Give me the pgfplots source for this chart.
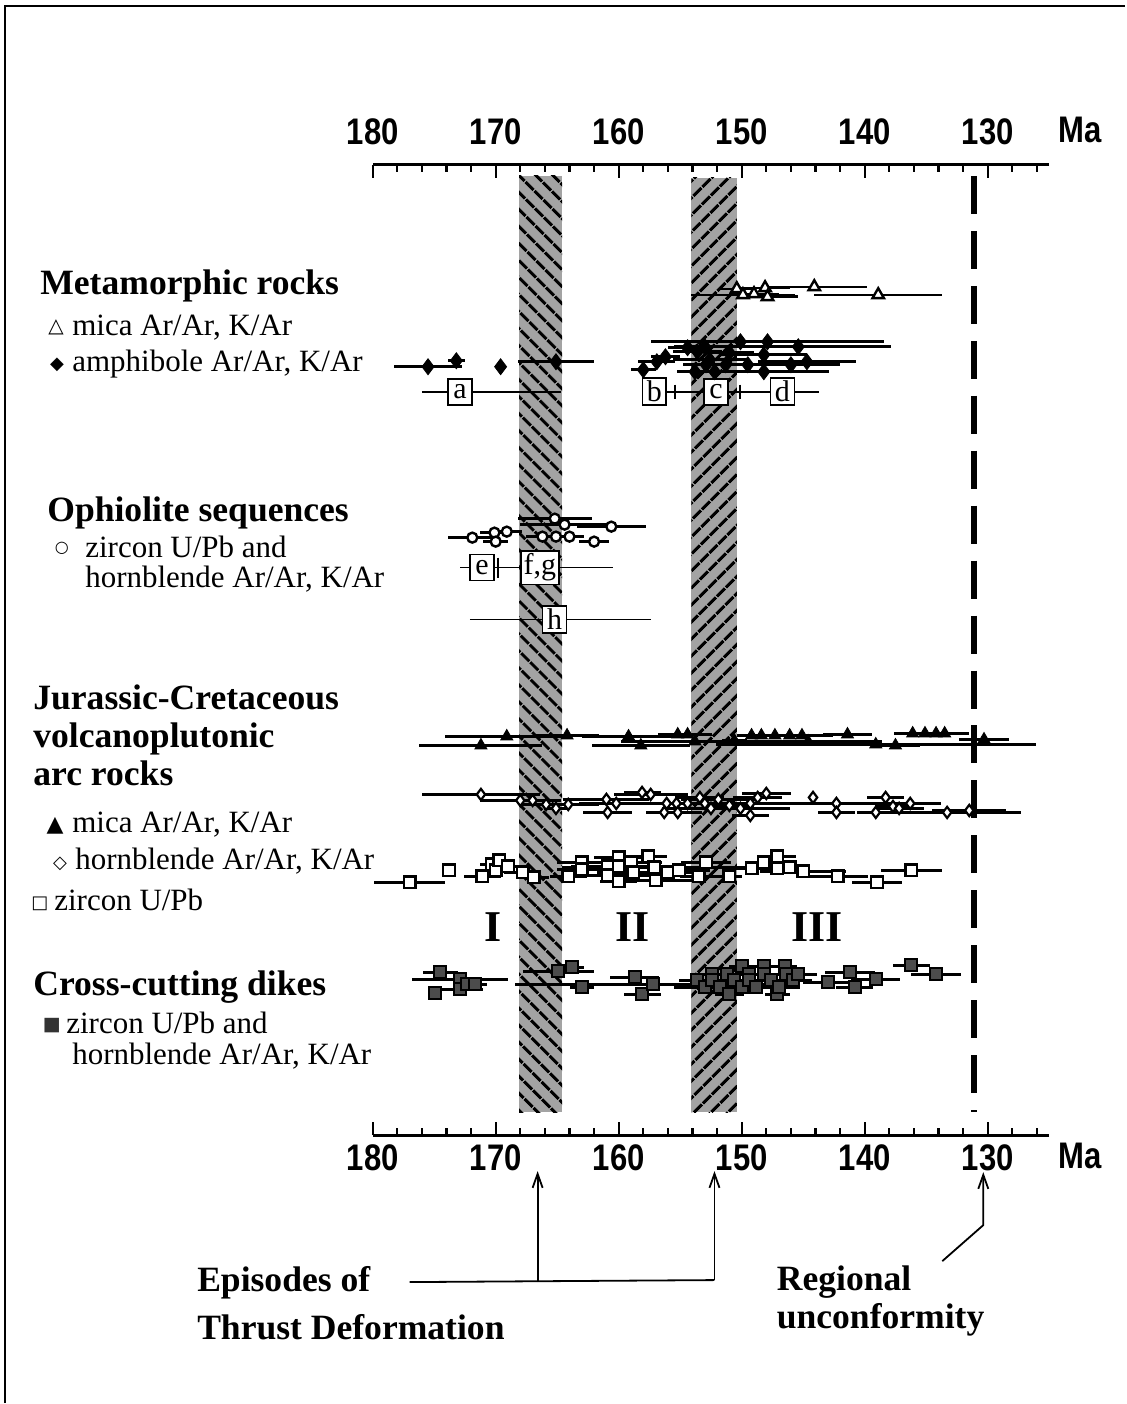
\documentclass[border=0pt]{standalone}
\usepackage{fontspec}
\setmainfont{Liberation Serif}
\newfontfamily\axisfont[FakeStretch=0.84]{Liberation Sans}
\newfontfamily\symfont{DejaVu Sans}
\usepackage{pgfplots}
\pgfplotsset{compat=1.18}
\usepackage{pgfplotstable}
\usetikzlibrary{patterns.meta, arrows.meta}

\newcommand\ticklabfont{\axisfont\bfseries\fontsize{18.5}{19}\selectfont}
\newcommand\ttl{\fontsize{17.8}{20}\selectfont\bfseries}
\newcommand\itm{\fontsize{15.5}{18}\selectfont}

% ages in Ma (x), row position (y, drawing units), 2-sigma half width (e)
\pgfplotstableread{
x y e
150.4 289 1.5
149.9 295 4.2
149.0 294 2.0
148.1 288 2.0
147.9 297 2.5
144.1 287 4.3
138.9 295 5.2
}\metamica

\pgfplotstableread{
x y e
175.5 367 2.8
173.2 361 0.7
169.6 367 0
165.1 362 3.1
158.0 370 1.0
156.9 362 1.5
156.2 357 1.2
154.4 348 1.6
153.6 352 2.0
153.0 347 2.5
152.6 360 3.0
152.2 372 2.0
153.8 372 1.5
152.9 365 1.0
151.3 365 3.5
151.0 353 2.0
150.1 342 4.0
149.5 365 2.5
148.2 355 3.5
148.2 372 5.3
147.9 342 9.5
146.0 365 4.0
145.4 347 7.5
144.7 362 4.0
}\metaamph

\pgfplotstableread{
x y e
171.9 538 2.0
170.1 533 1.2
170.0 542 1.0
169.1 532 1.2
166.2 537 1.3
165.2 519 3.0
165.1 537 2.2
164.4 525 3.6
164.0 537 1.2
162.0 542 1.2
160.6 527 2.8
}\ophio

\pgfplotstableread{
x y e
171.2 746 5.0
169.1 737 5.0
164.2 736 2.6
159.2 737 3.8
158.2 746 4.0
155.2 735 1.6
154.4 735 2.0
153.8 742 6.0
150.6 741 1.0
149.2 736 1.2
148.4 736 2.0
147.3 736 2.0
146.1 736 1.5
145.1 736 2.5
144.6 742 6.0
141.4 735 2.0
139.1 745 13.0
137.5 746 2.0
136.1 734 1.5
135.1 734 1.5
134.2 734 1.5
133.5 734 2.0
130.3 740 2.0
}\arcmica

\pgfplotstableread{
x y e
171.2 795 4.8
168.0 801 3.3
167.0 801 1.5
165.9 805 2.0
165.1 809 1.0
164.1 805 2.5
161.0 800 3.5
160.9 813 2.0
160.2 804 3.0
158.1 793 1.5
157.4 795 3.0
156.1 804 2.5
156.3 813 1.5
155.3 804 3.0
155.2 813 2.0
154.4 804 5.0
153.4 798 2.0
153.0 804 2.0
152.5 809 4.0
151.9 800 3.0
151.0 806 2.0
150.1 809 4.0
149.3 804 4.0
149.3 816 1.5
148.7 798 2.0
148.0 794 2.0
144.2 798 0
142.3 804 7.0
142.3 813 1.5
139.1 813 1.5
138.3 798 1.5
137.7 807 1.5
137.2 809 2.0
136.3 804 2.5
133.3 813 6.0
131.5 811 3.0
}\archbl

\pgfplotstableread{
x y e
177.0 883 2.9
173.8 871 0
171.1 877 1.5
170.3 865 1.0
170.0 871 1.0
169.7 861 0.8
169.0 867 1.5
167.8 873 1.5
166.9 878 1.2
164.1 877 1.5
163.0 863 2.0
163.0 870 2.0
160.9 867 3.0
160.9 876 3.5
160.0 858 2.0
160.0 867 2.5
160.0 882 1.5
159.0 863 2.5
158.8 873 3.0
157.6 857 1.5
157.1 868 7.5
157.0 881 3.0
156.0 873 2.0
155.1 871 2.5
153.5 877 1.5
152.9 863 2.0
151.0 877 1.0
149.2 869 2.0
148.2 863 1.5
147.1 857 1.5
147.1 869 1.5
146.1 868 1.5
145.0 872 3.5
142.2 877 2.5
139.0 883 2.0
136.2 871 2.5
}\arczrc

\pgfplotstableread{
x y e
174.5 973 1.4
172.9 980 3.9
174.9 994 0
172.9 990 1.9
172.3 985 0.8
171.7 985 1.0
164.9 972 2.9
163.8 968 1.0
163.0 988 1.0
158.7 978 2.0
158.1 995 1.5
157.2 985 11.2
153.6 981 1.5
153.0 988 2.5
152.4 975 1.5
152.4 981 1.0
151.8 988 1.5
151.2 975 1.0
151.0 995 1.2
150.6 981 1.5
150.0 967 1.0
150.0 988 1.0
149.4 975 1.0
149.4 981 1.0
148.8 988 3.5
148.2 967 1.5
148.2 975 1.0
147.6 981 1.5
147.1 995 1.0
147.0 988 1.0
146.5 967 1.0
146.4 975 2.5
145.8 981 1.5
145.4 975 1.0
143.0 983 2.0
141.2 973 2.0
140.8 988 1.5
139.1 980 2.0
136.2 966 1.5
134.2 975 2.0
}\dikes

\pgfplotsset{
  ruler/.style={
    scale only axis, width=338.5pt, height=485.5pt,
    xmin=125, xmax=180, x dir=reverse,
    ymin=165, ymax=1136, y dir=reverse,
    axis y line=none,
    xtick={130,140,150,160,170,180},
    xticklabels={130,140,150,160,170,180},
    minor xtick={126,128,...,178},
  },
  ticks in/.style={
    x axis line style={-, line width=1.6pt},
    every outer x axis line/.append style={-},
    tick align=inside, major tick length=6.5pt, minor tick length=3.5pt,
    every tick/.style={black, line width=1.1pt},
  },
  errx/.style={error bars/.cd, x dir=both, x explicit, error mark=none,
    error bar style={line width=1.3pt, black}},
}
\tikzset{
  refline/.style={black, line width=0.8pt},
  refbox/.style={draw, fill=white, line width=0.8pt, inner sep=1.5pt,
    minimum height=13pt, minimum width=12pt, font=\fontsize{15}{15}\selectfont},
  lbl/.style={anchor=base west, inner sep=0pt},
}

\begin{document}
\begin{tikzpicture}
% upper time ruler
\begin{axis}[ruler, axis x line*=top, ticks in,
  xticklabel style={font=\ticklabfont, anchor=center, yshift=16.5pt}]
\end{axis}

\begin{axis}[ruler, axis x line*=bottom, ticks in, clip=false,
  xticklabel style={font=\ticklabfont, anchor=center, yshift=-11.5pt}]
\coordinate (O) at (axis cs:210.301,0);

% thrust episodes
\addplot[draw=none, fill=black!36] coordinates {(168.1,176) (164.6,176) (164.6,1113) (168.1,1113)} -- cycle;
\addplot[draw=none, pattern={Lines[angle=-45, distance=6.4pt, line width=1.8pt]}] coordinates {(168.1,176) (164.6,176) (164.6,1113) (168.1,1113)} -- cycle;
\addplot[draw=none, fill=black!36] coordinates {(154.1,178) (150.4,178) (150.4,1113) (154.1,1113)} -- cycle;
\addplot[draw=none, pattern={Lines[angle=45, distance=6.4pt, line width=1.8pt]}] coordinates {(154.1,178) (150.4,178) (150.4,1113) (154.1,1113)} -- cycle;

% regional unconformity
\addplot[black, line width=3pt, dash pattern=on 19pt off 8.5pt] coordinates {(131.1,176) (131.1,1113)};

% published age ranges
\addplot[refline] coordinates {(176.0,392) (164.7,392)} node[refbox, pos=0.274] {a};
\addplot[refline] coordinates {(158.1,392) (143.7,392)}
  node[refbox, pos=0.069] {b} node[refbox, pos=0.417] {c} node[refbox, pos=0.792] {d};
\addplot[only marks, mark=|, mark size=3.5pt, mark options={line width=1pt}, black] coordinates {(155.4,392) (150.1,392)};
\addplot[refline] coordinates {(172.9,568) (160.5,568)}
  node[refbox, pos=0.145] {e} node[refbox, pos=0.524] {f,g};
\addplot[only marks, mark=|, mark size=5pt, mark options={line width=1pt}, black] coordinates {(169.8,568)};
\addplot[refline] coordinates {(172.1,620) (157.4,620)} node[refbox, pos=0.469] {h};

% metamorphic rocks
\addplot[black, only marks, mark=triangle*, mark size=3.3pt, mark options={fill=white, line width=1.2pt}, errx]
  table[x=x, y=y, x error=e] {\metamica};
\addplot[black, only marks, mark=diamond*, mark size=4pt, mark options={fill=black}, errx]
  table[x=x, y=y, x error=e] {\metaamph};
% ophiolite sequences
\addplot[black, only marks, mark=*, mark size=2.5pt, mark options={fill=white, line width=1.2pt}, errx]
  table[x=x, y=y, x error=e] {\ophio};
% arc rocks
\addplot[black, only marks, mark=triangle*, mark size=3.5pt, mark options={fill=black}, errx]
  table[x=x, y=y, x error=e] {\arcmica};
\addplot[black, only marks, mark=diamond*, mark size=2.8pt, mark options={fill=white, line width=1.1pt}, errx]
  table[x=x, y=y, x error=e] {\archbl};
\addplot[black, only marks, mark=square*, mark size=2.9pt, mark options={fill=white, line width=1.2pt}, errx]
  table[x=x, y=y, x error=e] {\arczrc};
% cross-cutting dikes
\addplot[black, only marks, mark=square*, mark size=3pt, mark options={fill=black!70, line width=1pt}, errx]
  table[x=x, y=y, x error=e] {\dikes};
\end{axis}

\begin{scope}[shift={(O)}, x=0.5pt, y=-0.5pt]
  \path (0,0) rectangle (1126,1404);
  \draw[line width=1pt] (5,1404) -- (5,6) -- (1126,6);

  \node[anchor=center, font=\ticklabfont] at (1081,130) {Ma};
  \node[anchor=center, font=\ticklabfont] at (1081,1157) {Ma};

  \node[lbl, font=\ttl] at (40,295) {Metamorphic rocks};
  \node[anchor=center, font=\symfont\bfseries\fontsize{10}{10}\selectfont] at (56,328) {△};
  \node[lbl, font=\itm] at (72,336) {mica Ar/Ar, K/Ar};
  \node[anchor=center, font=\symfont\fontsize{9}{9}\selectfont] at (57,365) {◆};
  \node[lbl, font=\itm] at (72,372) {amphibole Ar/Ar, K/Ar};

  \node[lbl, font=\ttl] at (47,522) {Ophiolite sequences};
  \node[anchor=center, font=\symfont\bfseries\fontsize{8}{8}\selectfont] at (62,549) {○};
  \node[lbl, font=\itm] at (85,558) {zircon U/Pb and};
  \node[lbl, font=\itm] at (85,588) {hornblende Ar/Ar, K/Ar};

  \node[lbl, font=\ttl] at (33,710) {Jurassic-Cretaceous};
  \node[lbl, font=\ttl] at (33,748) {volcanoplutonic};
  \node[lbl, font=\ttl] at (33,786) {arc rocks};
  \node[anchor=center, font=\symfont\fontsize{11}{11}\selectfont] at (55,826) {▲};
  \node[lbl, font=\itm] at (72,833) {mica Ar/Ar, K/Ar};
  \node[anchor=center, font=\symfont\bfseries\fontsize{9}{9}\selectfont] at (60,864) {◇};
  \node[lbl, font=\itm] at (75,870) {hornblende Ar/Ar, K/Ar};
  \node[anchor=center, font=\symfont\bfseries\fontsize{9}{9}\selectfont] at (40,904) {□};
  \node[lbl, font=\itm] at (54,911) {zircon U/Pb};

  \node[lbl, font=\ttl] at (33,996) {Cross-cutting dikes};
  \node[anchor=center, font=\symfont\fontsize{9.5}{10}\selectfont, text=black!80] at (52,1026) {■};
  \node[lbl, font=\itm] at (66,1034) {zircon U/Pb and};
  \node[lbl, font=\itm] at (72,1065) {hornblende Ar/Ar, K/Ar};

  \node[anchor=center, font=\fontsize{22}{22}\selectfont\bfseries] at (493,928) {I};
  \node[anchor=center, font=\fontsize{22}{22}\selectfont\bfseries] at (633,928) {II};
  \node[anchor=center, font=\fontsize{22}{22}\selectfont\bfseries] at (818,928) {III};

  \node[lbl, font=\ttl] at (197,1292) {Episodes of};
  \node[lbl, font=\ttl] at (197,1340) {Thrust Deformation};
  \node[lbl, font=\ttl] at (777,1291) {Regional};
  \node[lbl, font=\ttl] at (777,1329) {unconformity};

  \draw[line width=0.9pt] (410,1283) -- (715,1281);
  \draw[line width=0.9pt, -{Straight Barb[length=7pt, width=5pt]}] (538,1283) -- (538,1172);
  \draw[line width=0.9pt, -{Straight Barb[length=7pt, width=5pt]}] (715,1281) -- (715,1172);
  \draw[line width=0.9pt, -{Straight Barb[length=7pt, width=5pt]}] (943,1262) -- (984,1226) -- (984,1173);
\end{scope}
\end{tikzpicture}
\end{document}
